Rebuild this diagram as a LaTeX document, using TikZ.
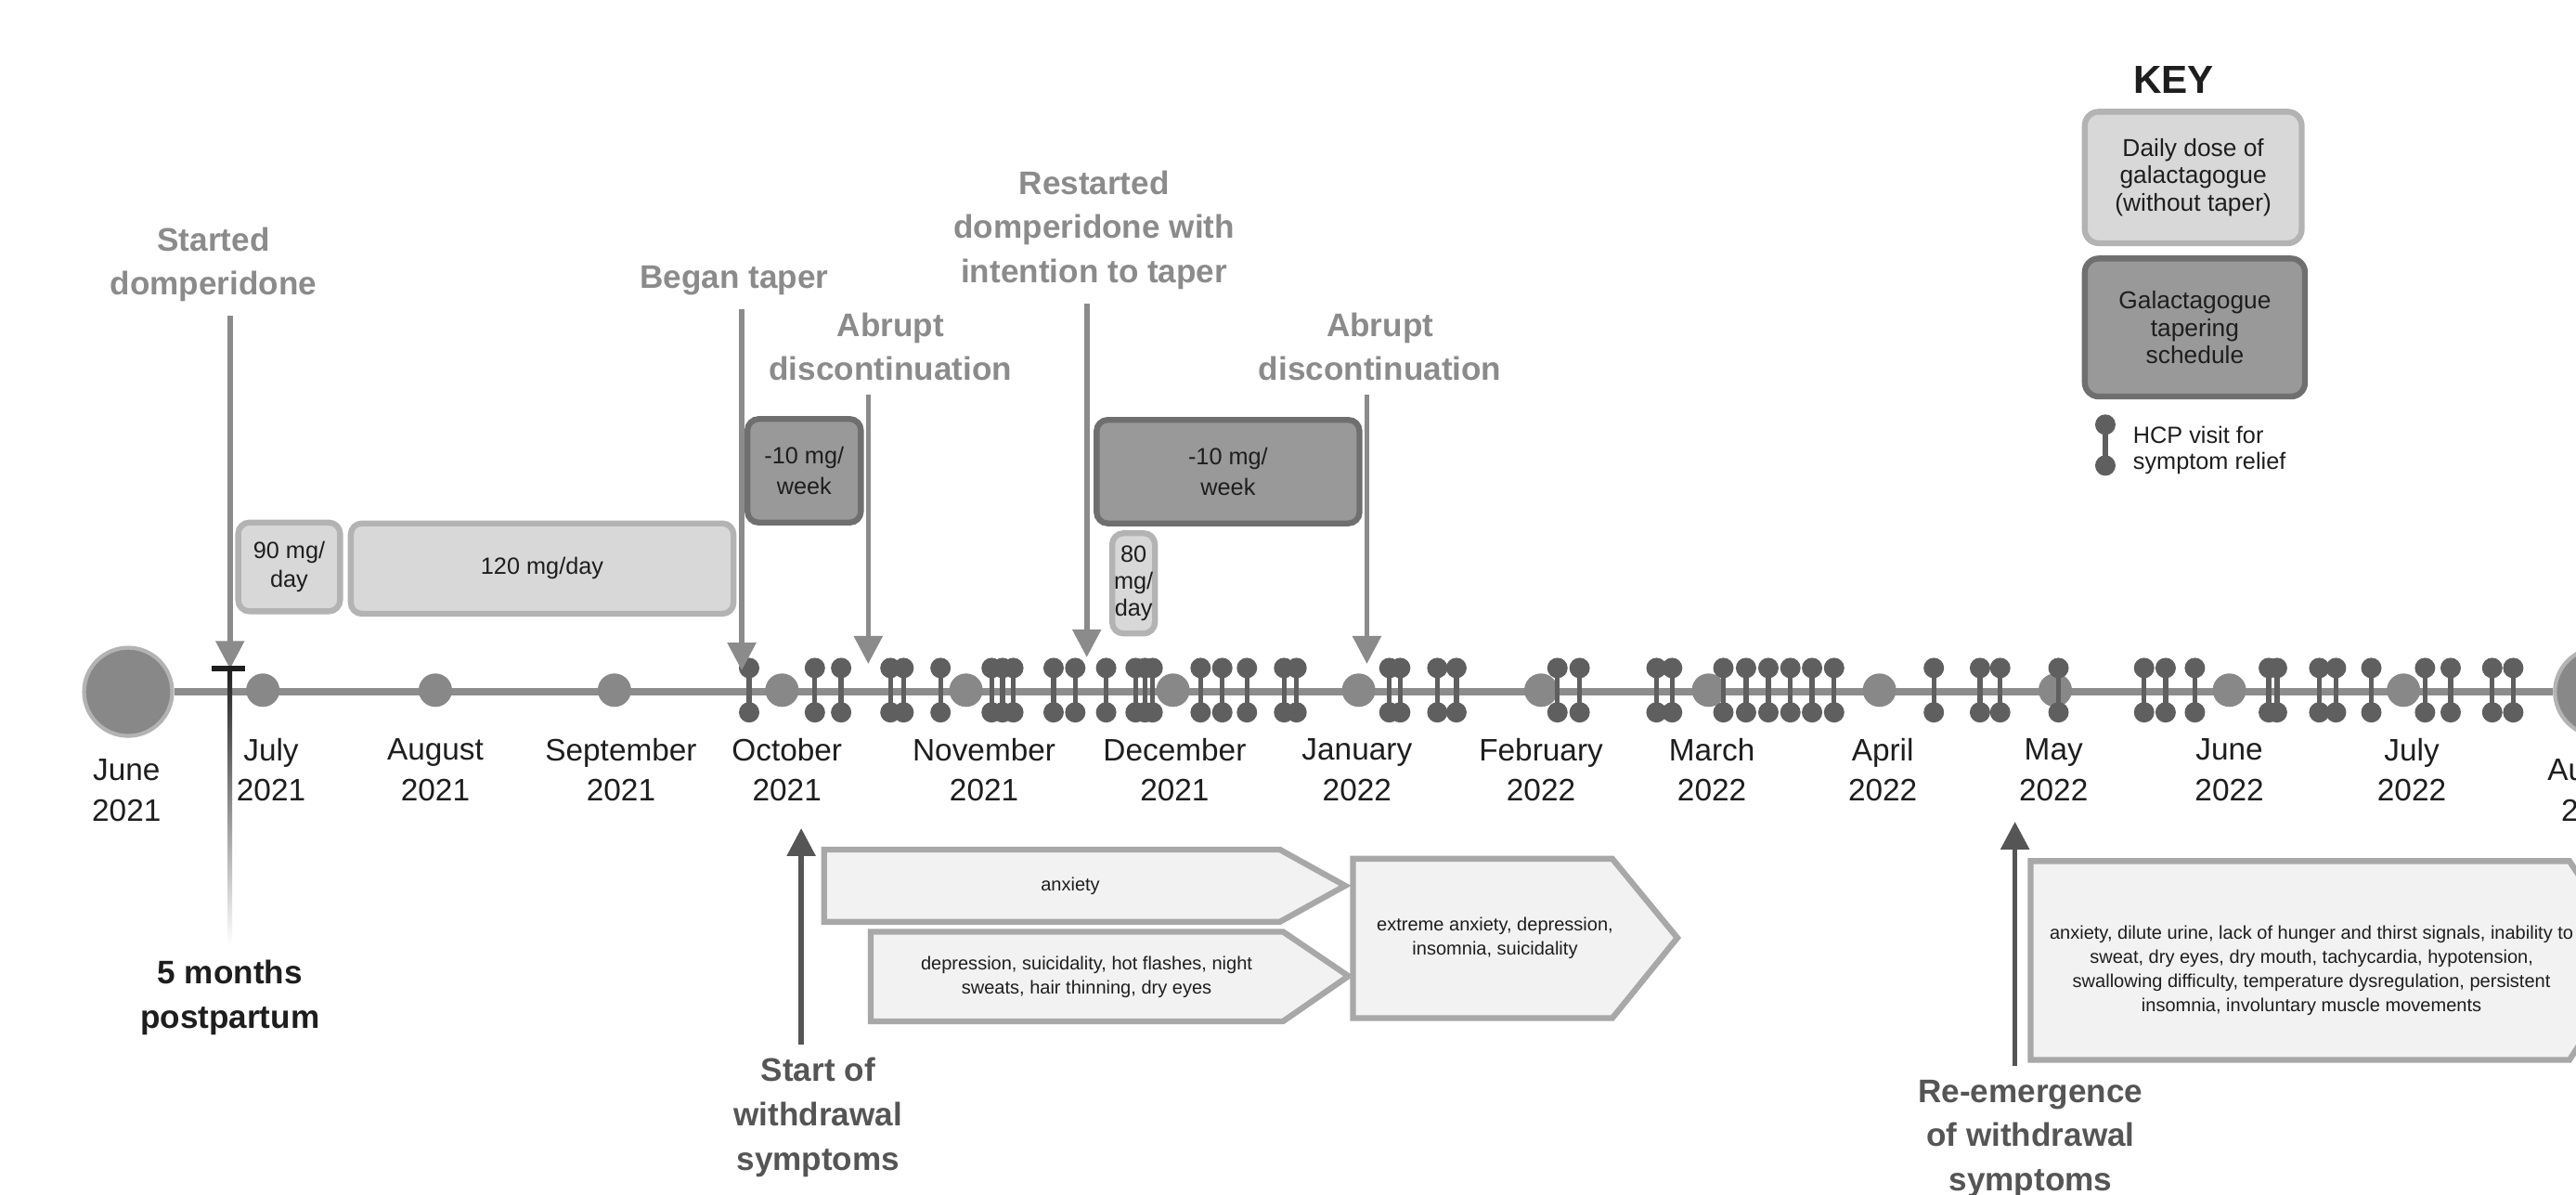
\documentclass[tikz,border=0pt]{standalone}
\usepackage{fontspec}
\setmainfont{Liberation Sans}
\usetikzlibrary{arrows.meta,positioning,calc}

\definecolor{evgrey}{HTML}{8B8B8B}
\definecolor{sxgrey}{HTML}{555555}
\definecolor{linegrey}{HTML}{8C8C8C}
\definecolor{dotgrey}{HTML}{888888}
\definecolor{hcpgrey}{HTML}{5F5F5F}
\definecolor{dosefill}{HTML}{D8D8D8}
\definecolor{doseedge}{HTML}{B3B3B3}
\definecolor{taperfill}{HTML}{999999}
\definecolor{taperedge}{HTML}{6F6F6F}
\definecolor{symfill}{HTML}{F2F2F2}
\definecolor{symedge}{HTML}{A8A8A8}
\definecolor{ink}{HTML}{1E1E1E}

\newcommand{\px}{0.017698cm}

\begin{document}
\begin{tikzpicture}[x=\px, y=-\px,
	>={Triangle[width=0.3cm,length=0.3cm]},
	evlbl/.style={text=evgrey, font=\fontsize{10}{13.6}\selectfont\bfseries, align=center, inner sep=0pt},
	sxlbl/.style={text=sxgrey, font=\fontsize{10}{13.6}\selectfont\bfseries, align=center, inner sep=0pt},
	monthlbl/.style={text=ink, font=\fontsize{9.5}{12.3}\selectfont, align=center, inner sep=0pt},
	evarrow/.style={->, draw=evgrey, fill=evgrey, line width=1.6pt, shorten <=4pt},
	sxarrow/.style={->, draw=sxgrey, fill=sxgrey, line width=1.6pt, shorten <=4pt},
	bigdot/.style={circle, fill=dotgrey, draw=doseedge, line width=1.2pt, minimum size=0.95cm, inner sep=0pt},
	mdot/.style={circle, fill=dotgrey, minimum size=0.36cm, inner sep=0pt},
	hcp bar/.style={draw=hcpgrey, line width=1.5pt},
	hcp/.style={fill=hcpgrey},
	dose/.style={draw=doseedge, fill=dosefill, line width=1.8pt, rounded corners=0.12cm, text=ink, align=center, inner sep=0pt, font=\fontsize{7.2}{9}\selectfont},
	taper/.style={draw=taperedge, fill=taperfill, line width=1.8pt, rounded corners=0.12cm, text=ink, align=center, inner sep=0pt, font=\fontsize{7.2}{9.5}\selectfont},
	symptom/.style={draw=symedge, fill=symfill, line width=1.8pt},
	symtxt/.style={text=ink, align=center, inner sep=0pt, font=\fontsize{5.7}{7.4}\selectfont}]

	\path[use as bounding box, fill=white] (0,0) rectangle (1568,727);

	\node[bigdot] (jun21) at (78,421) {};
	\node[bigdot] (aug22) at (1582,421) {};
	\draw[draw=linegrey, line width=2.2pt] (jun21) -- (aug22);

	\foreach \x [count=\i] in {160,265,374,476,588,714,827,938,1040,1144,1251,1357,1463}
		\node[mdot] (dot\i) at (\x,420) {};

	\foreach \x in {456,496,512,542,550,572.5,603.6,610.2,616.8,641.3,654.5,673.3,691.2,696.9,701.6,730.8,744,759,781.6,789.2,845.7,852.3,874.9,886.5,948,961.5,1008.3,1017.8,1049,1062.8,1076.4,1089.8,1103,1116.4,1177.1,1205.2,1217.5,1253,1305.1,1318.2,1336,1381,1386,1411.7,1421.9,1443.4,1476.1,1491.7,1517,1529.8} {
		\draw[hcp bar] (\x,407) -- (\x,433);
		\fill[hcp] (\x,406.5) circle (0.11cm) (\x,433.5) circle (0.11cm);
	}

	\node[monthlbl] (jun21lbl) at (77,481) {June\\2021};
	\foreach \x/\mon/\yr [count=\i] in {165/July/2021, 265/August/2021, 378/September/2021, 479/October/2021, 599/November/2021, 715/December/2021, 826/January/2022, 938/February/2022, 1042/March/2022, 1146/April/2022, 1250/May/2022, 1357/June/2022, 1468/July/2022}
		\node[monthlbl] (mon\i) at (\x,468.5) {\mon\\\yr};
	\node[monthlbl] (aug22lbl) at (1580,481) {August\\2022};

	\node[dose, minimum width=62*\px, minimum height=54*\px] (d90) at (176,345) {90 mg/\\day};
	\node[dose, minimum width=233*\px, minimum height=55*\px] (d120) at (330,346) {120 mg/day};
	\node[taper, minimum width=69*\px, minimum height=63*\px] (t1) at (489.5,286.5) {-10 mg/\\week};
	\node[taper, minimum width=160*\px, minimum height=63*\px] (t2) at (747.5,287) {-10 mg/\\week};
	\node[dose, minimum width=26*\px, minimum height=61*\px, font=\fontsize{7.2}{8.3}\selectfont] (d80) at (690,355) {80\\mg/\\day};

	\coordinate (sdtip) at (140,407);
	\coordinate (taptip) at (451.5,408);
	\coordinate (ab1tip) at (528.5,404);
	\coordinate (rstip) at (661.5,400);
	\coordinate (ab2tip) at (832,404);

	\node[evlbl] (startlbl) at (130,161) {Started\\domperidone};
	\node[evlbl] (taperlbl) at (447,171) {Began taper};
	\node[evlbl] (ab1lbl) at (542,211) {Abrupt\\discontinuation};
	\node[evlbl] (restartlbl) at (666,140) {Restarted\\domperidone with\\intention to taper};
	\node[evlbl] (ab2lbl) at (840,211) {Abrupt\\discontinuation};

	\draw[evarrow] (startlbl.south -| sdtip) -- (sdtip);
	\draw[evarrow] (taperlbl.south -| taptip) -- (taptip);
	\draw[evarrow] (ab1lbl.south -| ab1tip) -- (ab1tip);
	\draw[evarrow] (restartlbl.south -| rstip) -- (rstip);
	\draw[evarrow] (ab2lbl.south -| ab2tip) -- (ab2tip);

	\draw[ink, line width=1.6pt] (129,407) -- (149,407);
	\shade[top color=ink, middle color=ink!85, bottom color=white] (138.7,407) rectangle (141.3,575);
	\node[text=ink, font=\fontsize{10}{13.6}\selectfont\bfseries, align=center, inner sep=0pt] (pplbl) at (140,607) {5 months\\postpartum};

	\filldraw[symptom] (501.6,517) -- (779,517) -- (818.8,539) -- (779,561) -- (501.6,561) -- cycle;
	\filldraw[symptom] (530,567) -- (781,567) -- (820.8,594) -- (781,621.5) -- (530,621.5) -- cycle;
	\filldraw[symptom] (823.5,522.6) -- (981.4,522.6) -- (1021,570.7) -- (981.4,619.6) -- (823.5,619.6) -- cycle;
	\filldraw[symptom] (1236,524) -- (1564,524) -- (1604,584) -- (1564,645) -- (1236,645) -- cycle;

	\node[symtxt] (anx) at (651.5,539) {anxiety};
	\node[symtxt] (dep) at (661.4,594.7) {depression, suicidality, hot flashes, night\\sweats, hair thinning, dry eyes};
	\node[symtxt] (ext) at (910,571) {extreme anxiety, depression,\\insomnia, suicidality};
	\node[symtxt] (late) at (1407,590.5) {anxiety, dilute urine, lack of hunger and thirst signals, inability to\\sweat, dry eyes, dry mouth, tachycardia, hypotension,\\swallowing difficulty, temperature dysregulation, persistent\\insomnia, involuntary muscle movements};

	\coordinate (wdtip) at (487.7,504);
	\coordinate (retip) at (1226.5,500);
	\node[sxlbl] (wdlbl) at (498,680) {Start of\\withdrawal\\symptoms};
	\node[sxlbl] (relbl) at (1236,693) {Re-emergence\\of withdrawal\\symptoms};
	\draw[sxarrow] (wdlbl.north -| wdtip) -- (wdtip);
	\draw[sxarrow] (relbl.north -| retip) -- (retip);

	\node[text=ink, font=\fontsize{12}{14}\selectfont\bfseries, inner sep=0pt] (key) at (1323,48.6) {KEY};
	\node[dose, minimum width=132*\px, minimum height=80*\px, rounded corners=0.15cm, font=\fontsize{7.5}{8.4}\selectfont] (keydose) at (1335,108) {Daily dose of\\galactagogue\\(without taper)};
	\node[taper, minimum width=134*\px, minimum height=84*\px, rounded corners=0.15cm, font=\fontsize{7.5}{8.4}\selectfont] (keytaper) at (1336,199.3) {Galactagogue\\tapering\\schedule};
	\draw[hcp bar] (1281.5,258.4) -- (1281.5,283.3);
	\fill[hcp] (1281.5,258.4) circle (0.11cm) (1281.5,283.3) circle (0.11cm);
	\node[text=ink, font=\fontsize{7.2}{8}\selectfont, align=left, anchor=west, inner sep=0pt] (hcplbl) at (1298,274) {HCP visit for\\symptom relief};
\end{tikzpicture}
\end{document}
